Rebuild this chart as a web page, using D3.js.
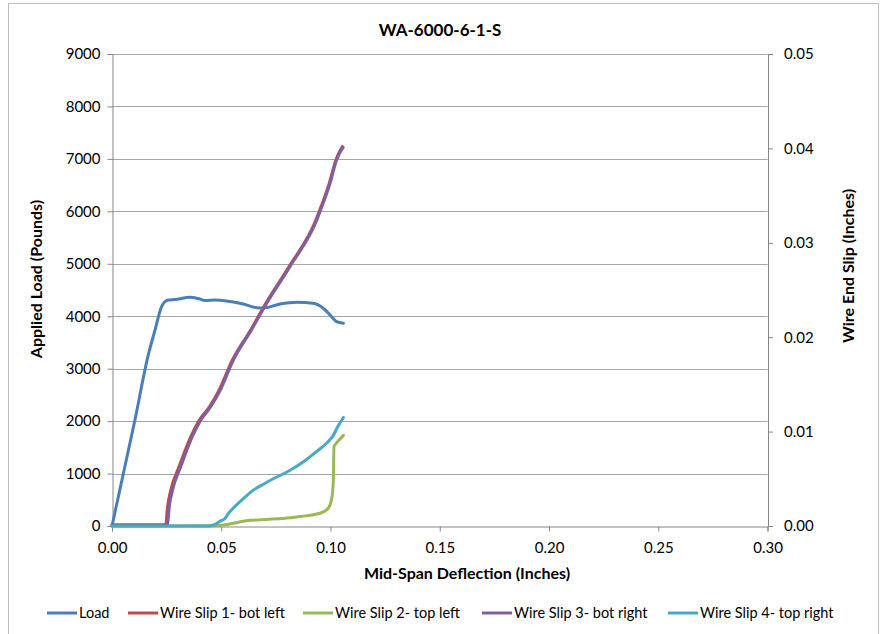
<!DOCTYPE html>
<html>
<head>
<meta charset="utf-8">
<script src="https://cdn.jsdelivr.net/npm/d3@7"></script>
<style>
  body { margin: 0; background: #fff; }
  svg { display: block; font-family: Lato, "Open Sans", sans-serif; }
</style>
</head>
<body>
<svg id="chart" width="882" height="634"></svg>
<script>
// ---- data ----
const chartTitle = "WA-6000-6-1-S";
const xTicks = [0, 0.05, 0.10, 0.15, 0.20, 0.25, 0.30];
const yLeftTicks = [0, 1000, 2000, 3000, 4000, 5000, 6000, 7000, 8000, 9000];
const yRightTicks = [0, 0.01, 0.02, 0.03, 0.04, 0.05];

// Load (pounds) vs mid-span deflection (inches)
const loadX = [0, 0.0105, 0.0166, 0.0197, 0.0227, 0.0243, 0.0258, 0.0288, 0.0357, 0.0394, 0.0426, 0.0471, 0.0525, 0.0601, 0.0662, 0.0692, 0.0769, 0.0845, 0.0921, 0.0967, 0.1005, 0.1028, 0.1059];
const loadY = [0, 2021, 3261, 3738, 4182, 4281, 4310, 4319, 4361, 4338, 4300, 4310, 4291, 4234, 4163, 4157, 4234, 4266, 4247, 4152, 3991, 3896, 3866];

// Wire slip 1 - bot left (inches)
const slip1X = [0, 0.0174, 0.0238, 0.0246, 0.0254, 0.0269, 0.0307, 0.0361, 0.0399, 0.0445, 0.0490, 0.0551, 0.0635, 0.0704, 0.0811, 0.0933, 0.0948, 0.0994, 0.1025, 0.1054];
const slip1Y = [0.0001, 0.0001, 0.0001, 0.0002, 0.0020, 0.0038, 0.0063, 0.0095, 0.0112, 0.0126, 0.0144, 0.0176, 0.0208, 0.0236, 0.0275, 0.0324, 0.0333, 0.0363, 0.0388, 0.0402];

// Wire slip 2 - top left
const slip2X = [0, 0.0464, 0.0509, 0.0555, 0.0632, 0.0708, 0.0784, 0.0860, 0.0921, 0.0967, 0.0990, 0.1005, 0.1013, 0.1016, 0.1028, 0.1043, 0.1059];
const slip2Y = [0, 0.00003, 0.0001, 0.0003, 0.0006, 0.0007, 0.0008, 0.0010, 0.0012, 0.0015, 0.0019, 0.0028, 0.0049, 0.0084, 0.0088, 0.0092, 0.0096];

// Wire slip 3 - bot right
const slip3X = [0, 0.0174, 0.0245, 0.0254, 0.0262, 0.0277, 0.0315, 0.0368, 0.0406, 0.0451, 0.0496, 0.0556, 0.0639, 0.0708, 0.0815, 0.0937, 0.0952, 0.0998, 0.1028, 0.1058];
const slip3Y = [0.0001, 0.0001, 0.0001, 0.0002, 0.0020, 0.0038, 0.0063, 0.0095, 0.0112, 0.0126, 0.0144, 0.0176, 0.0208, 0.0236, 0.0275, 0.0324, 0.0333, 0.0363, 0.0388, 0.0401];

// Wire slip 4 - top right
const slip4X = [0, 0.0435, 0.0464, 0.0494, 0.0517, 0.0532, 0.0555, 0.0601, 0.0647, 0.0691, 0.0738, 0.0815, 0.0876, 0.0937, 0.0983, 0.1013, 0.1028, 0.1043, 0.1059];
const slip4Y = [0, 0, 0.0001, 0.0005, 0.0008, 0.0013, 0.0019, 0.0029, 0.0038, 0.0044, 0.0050, 0.0059, 0.0068, 0.0079, 0.0088, 0.0096, 0.0103, 0.0109, 0.0115];

const seriesNames = ["Load", "Wire Slip 1- bot left", "Wire Slip 2- top left", "Wire Slip 3- bot right", "Wire Slip 4- top right"];
const seriesColors = ["#4A7EBB", "#BE4B48", "#98B954", "#7D60A0", "#46AAC5"];

// ---- layout ----
const svg = d3.select("#chart");
const L = 112, R = 767.5, T = 54, B = 526;

svg.append("rect").attr("x", 8.5).attr("y", 3.5).attr("width", 870).attr("height", 640)
  .attr("fill", "#fff").attr("stroke", "#BDBDBD").attr("stroke-width", 1);

const x = d3.scaleLinear().domain([0, 0.30]).range([L, R]);
const yL = d3.scaleLinear().domain([0, 9000]).range([B, T]);
const yR = d3.scaleLinear().domain([0, 0.05]).range([B, T]);

// gridlines
svg.append("g").selectAll("line").data(yLeftTicks.slice(1)).join("line")
  .attr("x1", L).attr("x2", R)
  .attr("y1", d => Math.round(yL(d)) + 0.5).attr("y2", d => Math.round(yL(d)) + 0.5)
  .attr("stroke", "#A6A6A6").attr("stroke-width", 1);

// axes
const axisColor = "#868686";
const gx = svg.append("g").attr("transform", `translate(0,${B + 0.5})`)
  .call(d3.axisBottom(x).tickValues(xTicks).tickFormat(d3.format(".2f")).tickSizeOuter(0).tickSize(5));
const gyl = svg.append("g").attr("transform", `translate(${L + 0.5},0)`)
  .call(d3.axisLeft(yL).tickValues(yLeftTicks).tickFormat(d3.format("d")).tickSizeOuter(0).tickSize(5));
const gyr = svg.append("g").attr("transform", `translate(${R + 0.5},0)`)
  .call(d3.axisRight(yR).tickValues(yRightTicks).tickFormat(d3.format(".2f")).tickSizeOuter(0).tickSize(5));

[gx, gyl, gyr].forEach(g => {
  g.select(".domain").attr("stroke", axisColor);
  g.selectAll(".tick line").attr("stroke", axisColor);
  g.selectAll(".tick text").attr("fill", "#000").style("font-size", "15px")
    .style("font-family", "Lato, 'Open Sans', sans-serif");
});
gx.selectAll(".tick text").attr("dy", "1.2em");
gyl.selectAll(".tick text").attr("x", -12);
gyr.selectAll(".tick text").attr("x", 16);

// series
const line = (yScale) => d3.line().x(d => x(d[0])).y(d => yScale(d[1])).curve(d3.curveMonotoneX);
const zipPts = (xs, ys) => xs.map((v, i) => [v, ys[i]]);
const series = [
  { pts: zipPts(loadX, loadY), scale: yL },
  { pts: zipPts(slip1X, slip1Y), scale: yR },
  { pts: zipPts(slip2X, slip2Y), scale: yR },
  { pts: zipPts(slip3X, slip3Y), scale: yR },
  { pts: zipPts(slip4X, slip4Y), scale: yR },
];
const plotG = svg.append("g");
[0, 1, 2, 3, 4].forEach(i => {
  const s = series[i];
  plotG.append("path").datum(s.pts)
    .attr("d", line(s.scale))
    .attr("fill", "none").attr("stroke", seriesColors[i])
    .attr("stroke-width", 3).attr("stroke-linejoin", "round").attr("stroke-linecap", "round");
});

// titles
svg.append("text").attr("x", 440).attr("y", 36).attr("text-anchor", "middle")
  .style("font-size", "17px").style("font-weight", "bold").text(chartTitle);
svg.append("text").attr("x", 467).attr("y", 579).attr("text-anchor", "middle")
  .style("font-size", "16px").style("font-weight", "bold").text("Mid-Span Deflection (Inches)");
svg.append("text").attr("transform", "translate(42,279) rotate(-90)").attr("text-anchor", "middle")
  .style("font-size", "16px").style("font-weight", "bold").text("Applied Load (Pounds)");
svg.append("text").attr("transform", "translate(854,266) rotate(-90)").attr("text-anchor", "middle")
  .style("font-size", "16px").style("font-weight", "bold").text("Wire End Slip (Inches)");

// legend
const legendX = [47, 128, 303, 482, 668];
const lg = svg.append("g").attr("transform", "translate(0,613)");
seriesNames.forEach((n, i) => {
  const g = lg.append("g").attr("transform", `translate(${legendX[i]},0)`);
  g.append("line").attr("x1", 0).attr("x2", 30).attr("y1", 0).attr("y2", 0)
    .attr("stroke", seriesColors[i]).attr("stroke-width", 3);
  g.append("text").attr("x", 32).attr("y", 5).style("font-size", "14.5px").text(n);
});
</script>
</body>
</html>
